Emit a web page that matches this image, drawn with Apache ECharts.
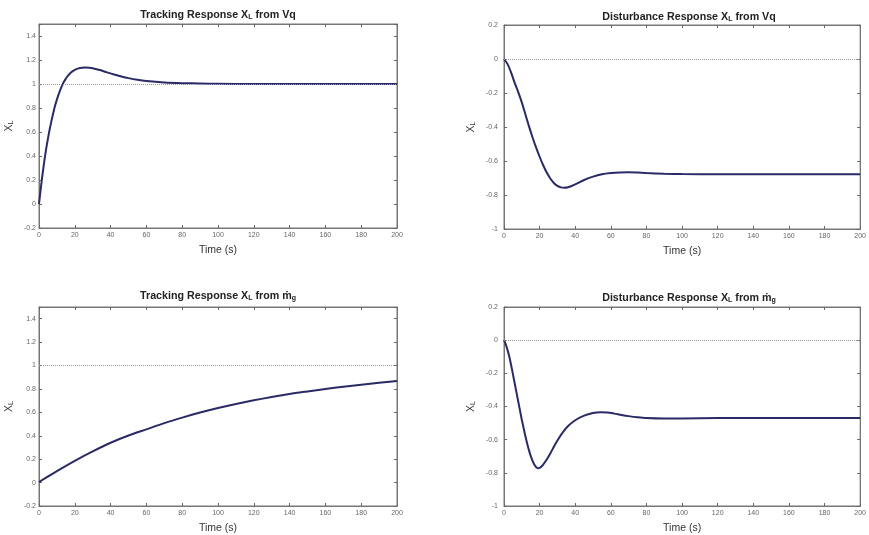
<!DOCTYPE html>
<html><head><meta charset="utf-8">
<script src="https://cdn.jsdelivr.net/npm/echarts@6/dist/echarts.min.js"></script>
<style>html,body{margin:0;padding:0;background:#fff}#c{width:869px;height:535px}</style>
</head><body><div id="c"></div>
<script>
// Tracking response X_L from Vq
const t1 = [0,1,2,3,4,5,6,7,8,9,10,11,12,13,14,15,16,18,20,22,24,26,28,30,34,38,42,46,50,55,60,70,80,90,100,120,140,160,180,200];
const y1 = [0,0.13,0.25,0.36,0.46,0.545,0.625,0.695,0.76,0.82,0.87,0.915,0.955,0.99,1.02,1.045,1.065,1.098,1.118,1.13,1.136,1.138,1.136,1.131,1.116,1.097,1.079,1.063,1.049,1.035,1.025,1.013,1.007,1.004,1.002,1.0,1.0,1.0,1.0,1.0];
// Disturbance response X_L from Vq
const t2 = [0,2,4,6,8,10,12,14,16,18,20,22,24,26,28,30,32,34,36,38,40,45,50,55,60,65,70,75,80,90,100,120,160,200];
const y2 = [0,-0.03,-0.08,-0.14,-0.195,-0.255,-0.325,-0.395,-0.46,-0.52,-0.575,-0.625,-0.668,-0.703,-0.729,-0.746,-0.755,-0.757,-0.754,-0.747,-0.738,-0.712,-0.692,-0.678,-0.671,-0.667,-0.666,-0.668,-0.671,-0.675,-0.677,-0.678,-0.678,-0.678];
// Tracking response X_L from m_g
const t3 = [0,10,20,30,40,50,60,70,80,90,100,110,120,130,140,150,160,170,180,190,200];
const y3 = [0.005,0.098,0.186,0.266,0.34,0.402,0.455,0.508,0.555,0.598,0.637,0.672,0.703,0.731,0.757,0.779,0.80,0.819,0.836,0.852,0.867];
// Disturbance response X_L from m_g
const t4 = [0,1,2,3,4,5,6,7,8,9,10,11,12,13,14,15,16,17,18,19,20,21,22,24,26,28,30,33,36,40,45,50,54,58,62,66,70,75,80,90,100,120,160,200];
const y4 = [0,-0.025,-0.06,-0.1,-0.15,-0.205,-0.26,-0.315,-0.37,-0.425,-0.48,-0.53,-0.578,-0.623,-0.663,-0.698,-0.727,-0.75,-0.765,-0.772,-0.77,-0.762,-0.75,-0.72,-0.683,-0.643,-0.605,-0.556,-0.518,-0.483,-0.455,-0.439,-0.434,-0.436,-0.443,-0.451,-0.458,-0.465,-0.47,-0.473,-0.472,-0.47,-0.469,-0.469];
// Reference levels
const refs = [1, 0, 1, 0];
const xTicks = {min:0, max:200, interval:20};
const yTrack = {min:-0.2, max:1.5, interval:0.2, labelMax:1.4};
const yDist = {min:-1, max:0.2, interval:0.2, labelMax:0.2};

const panels = [
  {t:t1, y:y1, ref:refs[0], yr:yTrack, title:['Tracking Response X','L',' from Vq']},
  {t:t2, y:y2, ref:refs[1], yr:yDist, title:['Disturbance Response X','L',' from Vq']},
  {t:t3, y:y3, ref:refs[2], yr:yTrack, title:['Tracking Response X','L',' from ṁ','g']},
  {t:t4, y:y4, ref:refs[3], yr:yDist, title:['Disturbance Response X','L',' from ṁ','g']}
];
const grids = [
  {left:39, top:24, width:358, height:204},
  {left:504, top:25, width:358, height:204},
  {left:39, top:307, width:358, height:204},
  {left:504, top:307, width:358, height:204}
];
const titlePos = [[218,8],[689,10],[218,289],[689,291]];
const yNameGap = [24,27,24,27];
const yLabelMargin = [3,6,3,6];

const font = 'Liberation Sans, Arial, sans-serif';
const richT = {
  a:{fontSize:10.7, fontWeight:'bold', color:'#222', fontFamily:font, verticalAlign:'bottom', lineHeight:13},
  s:{fontSize:7, fontWeight:'bold', color:'#222', fontFamily:font, verticalAlign:'bottom', lineHeight:12}
};
function titleText(p){
  const parts = p.title;
  let s = '{a|'+parts[0]+'}{s|'+parts[1]+'}{a|'+parts[2]+'}';
  if(parts[3]) s += '{s|'+parts[3]+'}';
  return s;
}
const tickStyle = {show:true, inside:true, length:3, lineStyle:{color:'#666'}};
const option = {
  backgroundColor:'#fff',
  animation:false,
  title: panels.map((p,i)=>({
    text:titleText(p), left:titlePos[i][0], top:titlePos[i][1], textAlign:'center', padding:0,
    textStyle:{rich:richT}
  })),
  grid: grids.map(g=>Object.assign({show:true, borderColor:'#777', borderWidth:1, backgroundColor:'#fff'}, g)),
  xAxis: [],
  yAxis: [],
  series: []
};
panels.forEach((p,i)=>{
  option.xAxis.push({
    type:'value', gridIndex:i, min:xTicks.min, max:xTicks.max, interval:xTicks.interval,
    name:'Time (s)', nameLocation:'middle', nameGap:17,
    nameTextStyle:{fontSize:10.5, color:'#333', fontFamily:font},
    axisLine:{show:true, onZero:false, lineStyle:{color:'#777'}},
    axisTick:tickStyle,
    axisLabel:{fontSize:7, color:'#666', margin:4, fontFamily:font},
    splitLine:{show:false}
  });
  option.xAxis.push({
    type:'value', gridIndex:i, position:'top', min:xTicks.min, max:xTicks.max, interval:xTicks.interval,
    axisLine:{show:true, onZero:false, lineStyle:{color:'#777'}}, axisTick:tickStyle, axisLabel:{show:false}, splitLine:{show:false}
  });
  const lm = p.yr.labelMax;
  option.yAxis.push({
    type:'value', gridIndex:i, min:p.yr.min, max:p.yr.max, interval:p.yr.interval,
    name:'{x|X}{l|L}', nameLocation:'middle', nameGap:yNameGap[i], nameRotate:90,
    nameTextStyle:{rich:{x:{fontSize:10.5, color:'#333', fontFamily:font, verticalAlign:'bottom', lineHeight:12}, l:{fontSize:7, color:'#333', fontFamily:font, verticalAlign:'bottom', lineHeight:11}}},
    axisLine:{show:true, onZero:false, lineStyle:{color:'#777'}},
    axisTick:tickStyle,
    axisLabel:{fontSize:7, color:'#666', margin:yLabelMargin[i], fontFamily:font,
      formatter:v=> v > lm + 1e-6 ? '' : String(Math.round(v*10)/10)},
    splitLine:{show:false}
  });
  option.yAxis.push({
    type:'value', gridIndex:i, position:'right', min:p.yr.min, max:p.yr.max, interval:p.yr.interval,
    axisLine:{show:true, onZero:false, lineStyle:{color:'#777'}}, axisTick:tickStyle, axisLabel:{show:false}, splitLine:{show:false}
  });
  option.series.push({
    type:'line', xAxisIndex:2*i, yAxisIndex:2*i, data:p.t.map((t,k)=>[t,p.y[k]]),
    showSymbol:false, smooth:0.3, lineStyle:{color:'#2a2a66', width:2}, z:3,
    markLine:{silent:true, symbol:'none', label:{show:false},
      lineStyle:{color:'#999', type:'dotted', width:1}, data:[{yAxis:p.ref}]}
  });
});
const chart = echarts.init(document.getElementById('c'), null, {renderer:'canvas'});
chart.setOption(option);
</script></body></html>
